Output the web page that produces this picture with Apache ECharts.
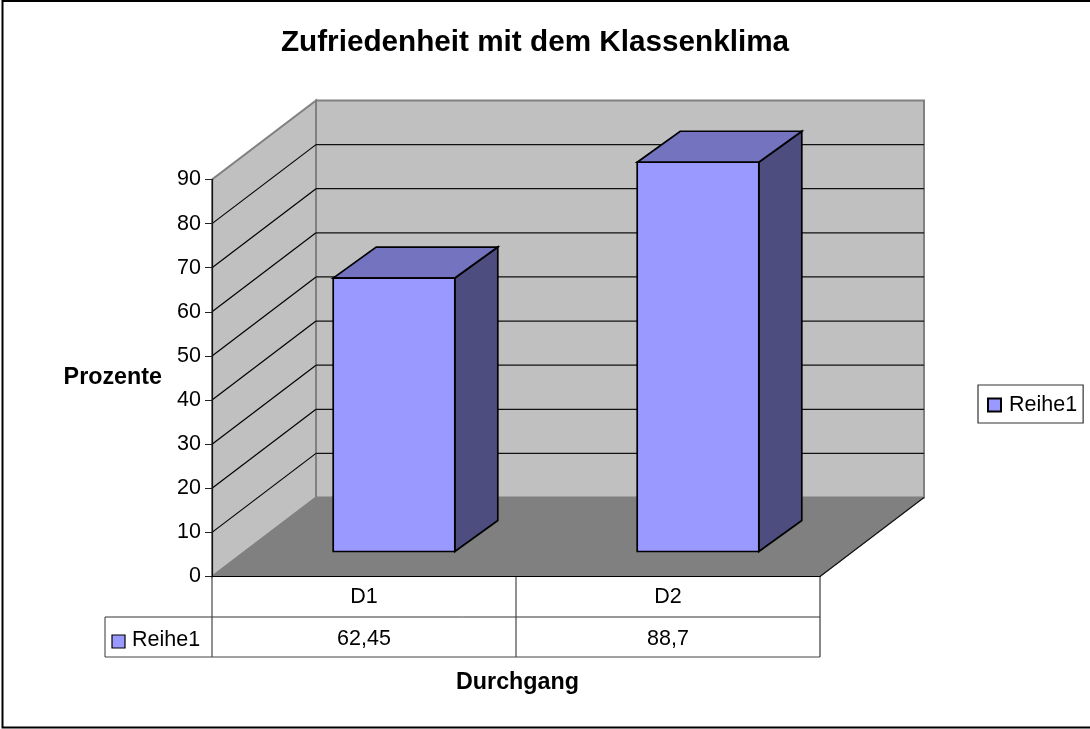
<!DOCTYPE html>
<html>
<head>
<meta charset="utf-8">
<style>html,body{margin:0;padding:0;background:#fff}#c{width:1090px;height:729px}</style>
<script src="https://cdn.jsdelivr.net/npm/echarts@6/dist/echarts.min.js"></script>
</head>
<body>
<div id="c"></div>
<script>
const categories = ['D1', 'D2'];
const values = [62.45, 88.7];
const tableLabels = ['62,45', '88,7'];
const valueTicks = [10, 20, 30, 40, 50, 60, 70, 80];
const seriesName = 'Reihe1';

const FONT = '"Liberation Sans", Arial, sans-serif';
const TEXT_SIZE = 21.5, BOLD_SIZE = 23.3;
const DEPTH = [104, -79];
const BAR_OFFSET = 30, BAR_WIDTH = 0.4, BAR_DEPTH = [43, -31];
const BAR_RAISE_BASE = 25, BAR_RAISE_TOP = 23;

function poly(points, fill, stroke, lw) {
  return { type: 'polygon', shape: { points }, style: { fill, stroke, lineWidth: lw } };
}
function seg(a, b, stroke, lw) {
  return { type: 'line', shape: { x1: a[0], y1: a[1], x2: b[0], y2: b[1] }, style: { stroke, lineWidth: lw } };
}
function back(p) { return [p[0] + DEPTH[0], p[1] + DEPTH[1]]; }

function renderScene(params, api) {
  const a0 = api.coord([0, 0]);
  const band = api.size([1, 0])[0];
  const L = a0[0] - band / 2, R = L + band * 2, y0 = a0[1], y90 = api.coord([0, 90])[1];
  const fl = [L, y0], fr = [R, y0], tl = [L, y90];
  const kids = [];
  kids.push(poly([fl, tl, back(tl), back(fl)], '#C0C0C0', '#808080', 2));
  kids.push(poly([back(fl), back(tl), back([R, y90]), back(fr)], '#C0C0C0', '#808080', 2));
  valueTicks.forEach(v => {
    const y = api.coord([0, v])[1];
    kids.push(seg([L, y], back([L, y]), '#000', 1.2));
    kids.push(seg(back([L, y]), back([R, y]), '#111', 1.3));
  });
  kids.push(poly([fl, fr, back(fr), back(fl)], '#808080', '#808080', 1));
  kids.push(seg(fr, back(fr), '#111', 1.2));
  // data table
  const y1 = y0 + 40.5, y2 = y0 + 80.5, tx = L - 107;
  kids.push(seg([L, y0], [L, y2], '#222', 1));
  kids.push(seg([L + band, y0], [L + band, y2], '#222', 1));
  kids.push(seg([R, y0], [R, y2], '#111', 1));
  kids.push(seg([tx, y1], [R, y1], '#333', 1));
  kids.push(seg([tx, y2], [R, y2], '#444', 1.2));
  kids.push(seg([tx, y1], [tx, y2], '#333', 1));
  kids.push({ type: 'rect', shape: { x: tx + 7, y: y1 + 18, width: 13, height: 13 },
    style: { fill: '#9999FF', stroke: '#000', lineWidth: 1.2 } });
  kids.push({ type: 'text', style: { x: tx + 27, y: y1 + 23, text: seriesName, font: TEXT_SIZE + 'px ' + FONT,
    fill: '#000', verticalAlign: 'middle' } });
  categories.forEach((c, i) => {
    const x = api.coord([i, 0])[0];
    kids.push({ type: 'text', style: { x, y: y1 + 22, text: tableLabels[i], font: TEXT_SIZE + 'px ' + FONT,
      fill: '#000', align: 'center', verticalAlign: 'middle' } });
  });
  return { type: 'group', children: kids };
}

function renderBar(params, api) {
  const i = api.value(0), v = api.value(1);
  const band = api.size([1, 0])[0], w = band * BAR_WIDTH;
  const cx = api.coord([i, 0])[0] + BAR_OFFSET;
  const x0 = cx - w / 2, x1 = cx + w / 2;
  const yb = api.coord([i, 0])[1] - BAR_RAISE_BASE, yt = api.coord([i, v])[1] - BAR_RAISE_TOP;
  const [dx, dy] = BAR_DEPTH, lw = 1.7;
  return { type: 'group', children: [
    poly([[x1, yb], [x1, yt], [x1 + dx, yt + dy], [x1 + dx, yb + dy]], '#4D4D80', '#000', lw),
    poly([[x0, yt], [x1, yt], [x1 + dx, yt + dy], [x0 + dx, yt + dy]], '#7373BF', '#000', lw),
    poly([[x0, yt], [x1, yt], [x1, yb], [x0, yb]], '#9999FF', '#000', lw)
  ] };
}

const chart = echarts.init(document.getElementById('c'), null, { renderer: 'canvas' });
chart.setOption({
  animation: false,
  backgroundColor: '#fff',
  title: { text: 'Zufriedenheit mit dem Klassenklima', left: 530, top: 23, textAlign: 'center',
    textStyle: { fontFamily: FONT, fontWeight: 'bold', fontSize: 29.7, color: '#000' } },
  graphic: [{ type: 'rect', z: -1, shape: { x: 2.5, y: 1, width: 1100, height: 726.5 },
    style: { fill: '#fff', stroke: '#000', lineWidth: 2 } }],
  legend: { data: [seriesName], left: 978, top: 385, orient: 'vertical', padding: [9, 6, 7, 9],
    borderColor: '#333', borderWidth: 1.2, backgroundColor: '#fff', icon: 'rect', itemWidth: 13, itemHeight: 13,
    itemGap: 0, selectedMode: false, textStyle: { fontFamily: FONT, fontSize: TEXT_SIZE, color: '#000', padding: [0, 0, 0, 3] } },
  grid: { left: 212, width: 608, top: 179.5, height: 397 },
  xAxis: { type: 'category', data: categories, z: 5,
    name: 'Durchgang', nameLocation: 'middle', nameGap: 95,
    nameTextStyle: { fontFamily: FONT, fontWeight: 'bold', fontSize: BOLD_SIZE, color: '#000', padding: [0, 0, 0, 3] },
    axisLine: { lineStyle: { color: '#000', width: 1.2 } }, axisTick: { show: false },
    axisLabel: { fontFamily: FONT, fontSize: TEXT_SIZE, color: '#000', margin: 10 } },
  yAxis: { type: 'value', min: 0, max: 90, interval: 10, z: 5,
    name: 'Prozente', nameLocation: 'middle', nameRotate: 0, nameGap: 50,
    nameTextStyle: { fontFamily: FONT, fontWeight: 'bold', fontSize: BOLD_SIZE, color: '#000', padding: [4, 0, 0, 0] },
    axisLine: { show: true, lineStyle: { color: '#111', width: 1.2 } },
    axisTick: { show: true, length: 7, lineStyle: { color: '#222' } },
    axisLabel: { fontFamily: FONT, fontSize: TEXT_SIZE, color: '#000', margin: 11, padding: [2, 0, 0, 0] },
    splitLine: { show: false } },
  series: [
    { type: 'custom', name: 'scene', silent: true, clip: false, z: 1, renderItem: renderScene,
      data: [[0, 0]], encode: { x: 0, y: 1 } },
    { type: 'custom', name: seriesName, clip: false, z: 2, renderItem: renderBar,
      itemStyle: { color: '#9999FF', borderColor: '#000', borderWidth: 1 },
      data: categories.map((c, i) => [i, values[i]]), encode: { x: 0, y: 1 } }
  ]
});
</script>
</body>
</html>
